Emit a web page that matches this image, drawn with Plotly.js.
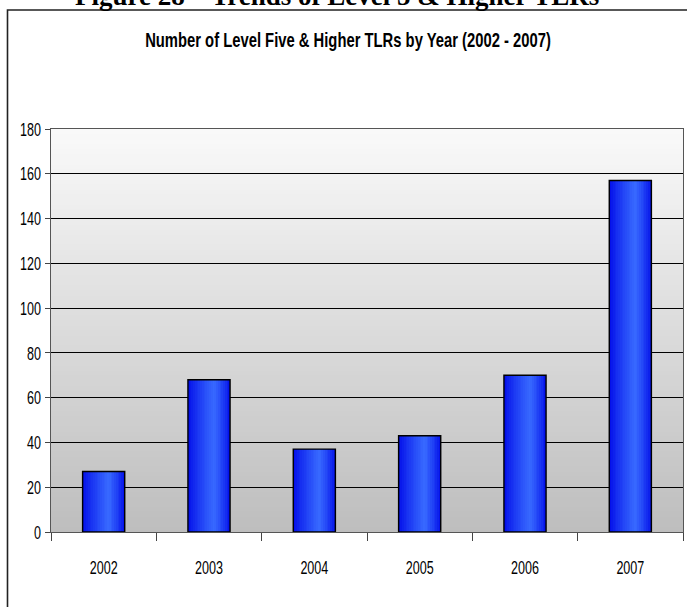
<!DOCTYPE html>
<html>
<head>
<meta charset="utf-8">
<script src="https://cdn.plot.ly/plotly-3.0.1.min.js"></script>
<style>
html,body{margin:0;padding:0;background:#fff;}
#chart{width:687px;height:607px;}
</style>
</head>
<body>
<div id="chart"></div>
<script>
// ---- data ----
const years = ['2002', '2003', '2004', '2005', '2006', '2007'];
const tlrCounts = [27, 68, 37, 43, 70, 157];
const yTickValues = [0, 20, 40, 60, 80, 100, 120, 140, 160, 180];
const chartTitle = 'Number of Level Five & Higher TLRs by Year (2002 - 2007)';
const figureHeading = 'Figure 28 \u2013 Trends of Level 5 & Higher TLRs';

// ---- style helpers ----
const FONT = '"Liberation Sans", Arial, sans-serif';
const BAR_WIDTH = 0.4;
const SLICES = 24;

function lerp(a, b, t) { return Math.round(a + (b - a) * t); }
function sliceColor(t) {
  const dark = [0, 10, 232];
  const light = [56, 106, 255];
  const peak = 0.62;
  let u = t < peak ? t / peak : (1 - t) / (1 - peak);
  u = Math.pow(u, 0.8);
  return 'rgb(' + lerp(dark[0], light[0], u) + ',' + lerp(dark[1], light[1], u) + ',' + lerp(dark[2], light[2], u) + ')';
}

const traces = [];
for (let i = 0; i < SLICES; i++) {
  const w = BAR_WIDTH / SLICES;
  traces.push({
    type: 'bar',
    x: years,
    y: tlrCounts,
    width: w + 0.003,
    offset: -BAR_WIDTH / 2 + i * w,
    marker: { color: sliceColor((i + 0.5) / SLICES), line: { width: 0 } },
    hoverinfo: 'skip',
    showlegend: false
  });
}
traces.push({
  type: 'bar',
  x: years,
  y: tlrCounts,
  width: BAR_WIDTH,
  offset: -BAR_WIDTH / 2,
  marker: { color: 'rgba(0,0,0,0)', line: { color: '#000', width: 1.4 } },
  hoverinfo: 'skip',
  showlegend: false
});

const shapes = [];
const BANDS = 80;
for (let i = 0; i < BANDS; i++) {
  const t = i / (BANDS - 1);
  const top = [249, 249, 249], bot = [190, 190, 190];
  const c = 'rgb(' + lerp(bot[0], top[0], t) + ',' + lerp(bot[1], top[1], t) + ',' + lerp(bot[2], top[2], t) + ')';
  shapes.push({
    type: 'rect', layer: 'below', xref: 'paper', yref: 'paper',
    x0: 0, x1: 1, y0: i / BANDS, y1: (i + 1) / BANDS + 0.002,
    fillcolor: c, line: { width: 0 }
  });
}
shapes.push({
  type: 'path', xref: 'paper', yref: 'paper', layer: 'above',
  path: 'M ' + ((7.5 - 51) / 632) + ',' + (-(620 - 532) / 403) +
        ' L ' + ((7.5 - 51) / 632) + ',' + ((532 - 10) / 403) +
        ' L ' + ((700 - 51) / 632) + ',' + ((532 - 10) / 403),
  line: { color: '#222', width: 1.6 }
});

const TITLE_X = 348;

const layout = {
  width: 687,
  height: 607,
  margin: { l: 51, r: 4, t: 129, b: 75 },
  paper_bgcolor: '#fff',
  plot_bgcolor: 'rgba(0,0,0,0)',
  barmode: 'overlay',
  bargap: 0,
  title: {
    text: '<b>' + chartTitle + '</b>',
    font: { family: FONT, size: 20, color: '#000' },
    xref: 'container', x: TITLE_X / 687, xanchor: 'center',
    yref: 'container', y: 1 - 40 / 607, yanchor: 'middle'
  },
  xaxis: {
    type: 'category',
    showgrid: false,
    tickson: 'boundaries',
    ticks: 'outside', ticklen: 8, tickcolor: '#444', tickwidth: 1,
    showline: true, linecolor: '#555', linewidth: 1.2, mirror: true,
    tickfont: { family: FONT, size: 19, color: '#000' },
    ticklabelstandoff: 18,
    fixedrange: true
  },
  yaxis: {
    range: [0, 180],
    tickvals: yTickValues,
    ticktext: yTickValues.map(String),
    showgrid: true, gridcolor: '#000', gridwidth: 1,
    zeroline: false,
    ticks: 'outside', ticklen: 5, tickcolor: '#444', tickwidth: 1,
    showline: true, linecolor: '#555', linewidth: 1.2, mirror: true,
    tickfont: { family: FONT, size: 19, color: '#000' },
    ticklabelstandoff: 0,
    fixedrange: true
  },
  shapes: shapes,
  annotations: [{
    text: '<b>' + figureHeading + '</b>',
    xref: 'paper', yref: 'paper',
    x: (337 - 51) / 632, xanchor: 'center',
    y: (532 - 13) / 403, yanchor: 'bottom',
    showarrow: false,
    font: { family: '"Liberation Serif", "Times New Roman", serif', size: 27, color: '#000' }
  }]
};

function condense(sel, ratio) {
  document.querySelectorAll(sel).forEach(function (el) {
    const len = el.getComputedTextLength();
    if (len > 0) {
      el.setAttribute('textLength', (len * ratio).toFixed(2));
      el.setAttribute('lengthAdjust', 'spacingAndGlyphs');
    }
  });
}
function squeezeAbout(sel, ratio) {
  document.querySelectorAll(sel).forEach(function (el) {
    const bb = el.getBBox();
    const cx = bb.x + bb.width / 2;
    const prev = el.getAttribute('transform') || '';
    el.setAttribute('transform', prev + ' translate(' + cx + ',0) scale(' + ratio + ',1) translate(' + (-cx) + ',0)');
  });
}

Plotly.newPlot('chart', traces, layout, { staticPlot: true, displayModeBar: false }).then(function () {
  squeezeAbout('#chart .gtitle', 0.74);
  condense('#chart .xtick text', 0.66);
  condense('#chart .ytick text', 0.66);
});
</script>
</body>
</html>
